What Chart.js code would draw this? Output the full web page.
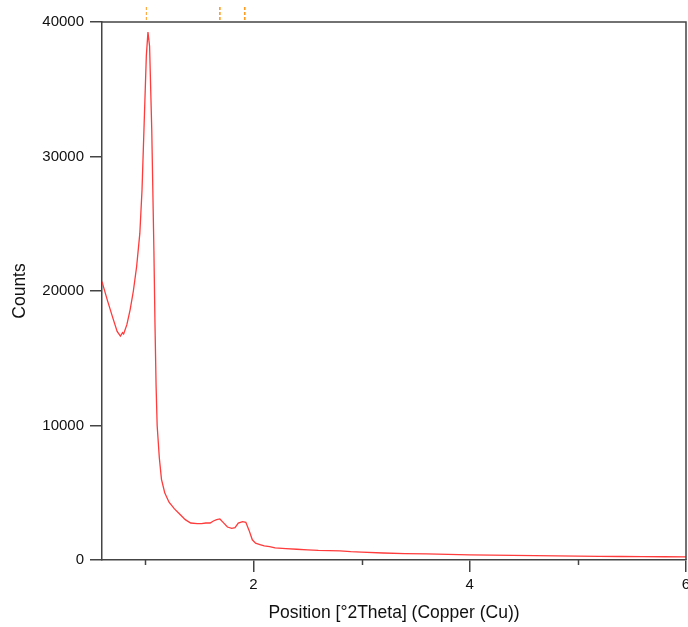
<!DOCTYPE html>
<html>
<head>
<meta charset="utf-8">
<script src="https://cdn.jsdelivr.net/npm/chart.js@4.4.1/dist/chart.umd.min.js"></script>
<style>
  html, body { margin: 0; padding: 0; background: #fff; }
  #wrap { width: 688px; height: 627px; }
</style>
</head>
<body>
<div id="wrap"><canvas id="xrd" width="688" height="627"></canvas></div>
<script>
// 2theta positions (deg) and counts
const twoTheta = [
  0.60, 0.65, 0.70, 0.74, 0.77, 0.79, 0.80, 0.83, 0.86, 0.89,
  0.92, 0.95, 0.97, 0.99, 1.01, 1.025, 1.04, 1.06, 1.08, 1.09,
  1.10, 1.11, 1.13, 1.15, 1.18, 1.22, 1.27, 1.32, 1.37, 1.42,
  1.48, 1.52, 1.56, 1.60, 1.63, 1.66, 1.69, 1.72, 1.76, 1.80,
  1.83, 1.86, 1.90, 1.93, 1.96, 1.99, 2.02, 2.06, 2.10, 2.15,
  2.20, 2.30, 2.40, 2.50, 2.60, 2.70, 2.80, 2.90, 3.00, 3.20,
  3.40, 3.60, 3.80, 4.00, 4.20, 4.40, 4.60, 4.80, 5.00, 5.20,
  5.40, 5.60, 5.80, 6.00
];
const counts = [
  20700, 19300, 18000, 17000, 16650, 16900, 16800, 17500, 18600, 20000,
  21800, 24300, 27500, 32500, 37500, 39250, 38200, 32000, 23000, 17500,
  13000, 10000, 7600, 6000, 5000, 4300, 3800, 3400, 3000, 2750,
  2700, 2700, 2750, 2750, 2900, 3000, 3050, 2800, 2450, 2350,
  2400, 2750, 2850, 2800, 2200, 1500, 1250, 1150, 1050, 1000,
  900, 850, 800, 760, 720, 700, 680, 620, 580, 520,
  480, 450, 420, 380, 360, 340, 320, 300, 290, 270,
  260, 250, 240, 230
];
// reference peak positions shown as markers above the frame
const refPeaks = [1.01, 1.69, 1.92];
const xTickValues = [1, 2, 3, 4, 5, 6];
const xLabelValues = [2, 4, 6];

const axisColor = '#444';
const font = 'Liberation Sans, Arial, sans-serif';

// box around the plot, short minor ticks, reference markers on top
const framePlugin = {
  id: 'frame',
  afterDraw(chart) {
    const { ctx, chartArea: a, scales } = chart;
    ctx.save();
    ctx.strokeStyle = axisColor;
    ctx.lineWidth = 1.5;
    ctx.beginPath();
    ctx.moveTo(a.left, a.top);
    ctx.lineTo(a.right, a.top);
    ctx.lineTo(a.right, a.bottom);
    ctx.stroke();
    xTickValues.filter(v => !xLabelValues.includes(v)).forEach(v => {
      const x = Math.round(scales.x.getPixelForValue(v)) + 0.5;
      ctx.beginPath();
      ctx.moveTo(x, a.bottom);
      ctx.lineTo(x, a.bottom + 5);
      ctx.stroke();
    });
    ctx.strokeStyle = '#ff9a1f';
    ctx.setLineDash([3, 2]);
    refPeaks.forEach((p, i) => {
      const x = scales.x.getPixelForValue(p);
      ctx.lineWidth = i === 0 ? 1 : 1.6;
      ctx.beginPath();
      ctx.moveTo(x, a.top - 15);
      ctx.lineTo(x, a.top);
      ctx.stroke();
    });
    ctx.restore();
  }
};

const ctx = document.getElementById('xrd').getContext('2d');
new Chart(ctx, {
  type: 'line',
  data: {
    datasets: [{
      data: twoTheta.map((t, i) => ({ x: t, y: counts[i] })),
      borderColor: '#ff3b3b',
      borderWidth: 1.3,
      pointRadius: 0,
      tension: 0,
      fill: false
    }]
  },
  options: {
    responsive: false,
    animation: false,
    events: [],
    layout: { padding: { top: 22, right: 2, left: 0, bottom: 0 } },
    plugins: { legend: { display: false }, tooltip: { enabled: false } },
    scales: {
      x: {
        type: 'linear',
        min: 0.6,
        max: 6,
        afterBuildTicks(scale) {
          scale.ticks = xTickValues.map(v => ({ value: v }));
        },
        afterFit(scale) {
          scale.height = 67;
          scale.paddingLeft = 0;
          scale.paddingRight = 0;
        },
        border: { display: true, color: axisColor, width: 1.5 },
        grid: {
          display: true,
          drawOnChartArea: false,
          drawTicks: true,
          tickLength: 12,
          lineWidth: 1.5,
          color: c => (c.tick && xLabelValues.includes(c.tick.value)) ? axisColor : 'rgba(0,0,0,0)'
        },
        ticks: {
          autoSkip: false,
          maxRotation: 0,
          padding: 4,
          color: '#111',
          font: { family: font, size: 15 },
          callback: v => xLabelValues.includes(v) ? String(v) : ''
        },
        title: {
          display: true,
          text: 'Position [°2Theta] (Copper (Cu))',
          color: '#111',
          font: { family: font, size: 17.5 },
          padding: { top: 4, bottom: 3 }
        }
      },
      y: {
        min: 0,
        max: 40000,
        afterFit(scale) {
          scale.width = 102;
          scale.paddingTop = 0;
          scale.paddingBottom = 0;
        },
        border: { display: true, color: axisColor, width: 1.5 },
        grid: { display: true, drawOnChartArea: false, drawTicks: true, tickLength: 12, color: axisColor, lineWidth: 1.5 },
        ticks: {
          stepSize: 10000,
          padding: 6,
          color: '#111',
          font: { family: font, size: 15 },
          callback: v => String(v)
        },
        title: {
          display: true,
          text: 'Counts',
          color: '#111',
          font: { family: font, size: 17.5 },
          padding: { top: 10, bottom: 0 }
        }
      }
    }
  },
  plugins: [framePlugin]
});
</script>
</body>
</html>
